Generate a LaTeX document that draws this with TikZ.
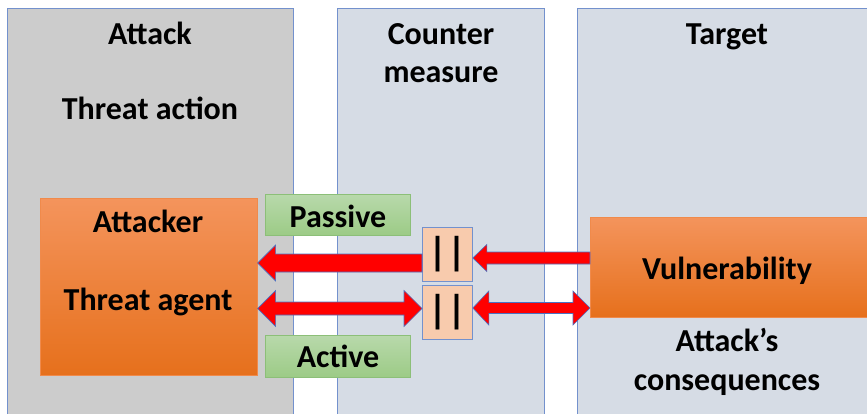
\documentclass[tikz,border=0pt]{standalone}
\usepackage{fontspec}
\setmainfont{Carlito}
\usetikzlibrary{calc}
\definecolor{colborder}{HTML}{7391CD}
\definecolor{grayfill}{HTML}{CCCCCC}
\definecolor{bluefill}{HTML}{D6DCE5}
\definecolor{orangetop}{HTML}{F4945C}
\definecolor{orangebot}{HTML}{E6701C}
\definecolor{orangeedge}{HTML}{F08A4B}
\definecolor{greentop}{HTML}{B8D9AB}
\definecolor{greenbot}{HTML}{9CCB86}
\definecolor{greenedge}{HTML}{8CBF78}
\definecolor{peach}{HTML}{F8CBAD}
\definecolor{arrowred}{HTML}{FF0000}
\definecolor{arrowedge}{HTML}{4A72C4}
\tikzset{
  col/.style={draw=colborder, line width=0.8pt, anchor=north west, inner sep=0pt},
  lbl/.style={font=\fontsize{32}{38}\selectfont\bfseries, inner sep=0pt, anchor=base},
  orangebox/.style={draw=orangeedge, line width=0.6pt, top color=orangetop, bottom color=orangebot, anchor=north west, inner sep=0pt},
  greenbox/.style={draw=greenedge, line width=0.6pt, top color=greentop, bottom color=greenbot, anchor=north west, inner sep=0pt},
  barbox/.style={draw=colborder, line width=0.8pt, fill=peach, anchor=north west, inner sep=0pt},
  bars/.style={font=\fontsize{40}{42}\selectfont\bfseries, inner sep=0pt},
  blk/.style={fill=arrowred, draw=arrowedge, line width=0.6pt, line join=miter},
}
\begin{document}
\begin{tikzpicture}[x=1pt, y=-1pt]
\useasboundingbox[fill=white] (0,0) rectangle (867,414);
\begin{scope}
\clip (0,0) rectangle (867,414);
% columns
\node[col, fill=grayfill, minimum width=286pt, minimum height=430pt] (colA) at (7,8) {};
\node[col, fill=bluefill, minimum width=207pt, minimum height=430pt] (colC) at (337,8) {};
\node[col, fill=bluefill, minimum width=300pt, minimum height=430pt] (colT) at (577,8) {};
% column labels
\node[lbl] (tAttack) at (150,45) {Attack};
\node[lbl] (tThreat) at (150,120) {Threat action};
\node[lbl] (tCounter) at (441,45) {Counter};
\node[lbl] (tMeasure) at (441,83) {measure};
\node[lbl] (tTarget) at (727,45) {Target};
% attacker
\node[orangebox, minimum width=217pt, minimum height=177pt] (att) at (40,198) {};
\node[lbl] (tAttacker) at (148,233) {Attacker};
\node[lbl] (tAgent) at (148,310) {Threat agent};
% vulnerability
\node[orangebox, minimum width=290pt, minimum height=100pt] (vul) at (590,217) {};
\node[lbl] (tVul) at (727,279) {Vulnerability};
\node[lbl] (tAttacks) at (727,351) {Attack’s};
\node[lbl] (tCons) at (727,390) {consequences};
% passive / active
\node[greenbox, minimum width=145pt, minimum height=41pt] (pas) at (265,194) {};
\node[lbl] (tPas) at (338,227) {Passive};
\node[greenbox, minimum width=145pt, minimum height=42pt] (act) at (265,335) {};
\node[lbl] (tAct) at (338,367) {Active};
% bar boxes
\node[barbox, minimum width=50pt, minimum height=54pt] (b1) at (422,227) {};
\node[barbox, minimum width=50pt, minimum height=54pt] (b2) at (422,285) {};
\node[bars] (bar1) at (b1.center) {||};
\node[bars] (bar2) at (b2.center) {||};
% arrow end points
\coordinate (p1) at (att.east |- 0,263);
\coordinate (q1) at (b1.west |- 0,263);
\coordinate (p2) at (b1.east |- 0,258);
\coordinate (q2) at (vul.west |- 0,258);
\coordinate (p3) at (att.east |- 0,308.5);
\coordinate (q3) at (b2.west |- 0,308.5);
\coordinate (p4) at (b2.east |- 0,308);
\coordinate (q4) at (vul.west |- 0,308);
% upper-left arrow (to attacker)
\draw[blk] (p1) -- ($(p1)+(18pt,18pt)$) -- ($(p1)+(18pt,9pt)$) -- ($(q1)+(0,9pt)$)
  -- ($(q1)+(0,-9pt)$) -- ($(p1)+(18pt,-9pt)$) -- ($(p1)+(18pt,-18pt)$) -- cycle;
% upper-right arrow (to bar box)
\draw[blk] (p2) -- ($(p2)+(14pt,13.5pt)$) -- ($(p2)+(14pt,6pt)$) -- ($(q2)+(0,6pt)$)
  -- ($(q2)+(0,-6pt)$) -- ($(p2)+(14pt,-6pt)$) -- ($(p2)+(14pt,-13.5pt)$) -- cycle;
% lower-left double arrow
\draw[blk] (p3) -- ($(p3)+(18pt,18pt)$) -- ($(p3)+(18pt,6.5pt)$) -- ($(q3)+(-18pt,6.5pt)$)
  -- ($(q3)+(-18pt,18pt)$) -- (q3) -- ($(q3)+(-18pt,-18pt)$) -- ($(q3)+(-18pt,-6.5pt)$)
  -- ($(p3)+(18pt,-6.5pt)$) -- ($(p3)+(18pt,-18pt)$) -- cycle;
% lower-right double arrow
\draw[blk] (p4) -- ($(p4)+(16pt,17pt)$) -- ($(p4)+(16pt,5.5pt)$) -- ($(q4)+(-17pt,5.5pt)$)
  -- ($(q4)+(-17pt,17pt)$) -- (q4) -- ($(q4)+(-17pt,-17pt)$) -- ($(q4)+(-17pt,-5.5pt)$)
  -- ($(p4)+(16pt,-5.5pt)$) -- ($(p4)+(16pt,-17pt)$) -- cycle;
\end{scope}
\end{tikzpicture}
\end{document}
